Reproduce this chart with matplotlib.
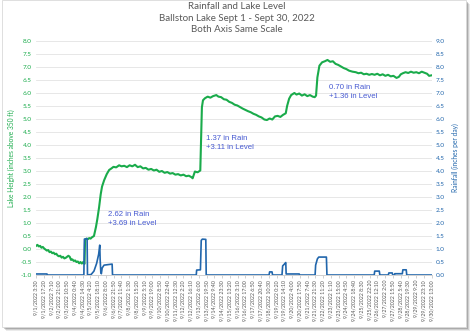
import matplotlib
matplotlib.use("Agg")
import matplotlib.pyplot as plt
from matplotlib.patches import Rectangle

plt.rcParams["font.family"] = ["Lato", "DejaVu Sans"]

# lake level, inches above 350 ft, as (day of September, level)
level_points = [
    (1.15, 0.12), (1.25, 0.16), (1.35, 0.10), (1.45, 0.12), (1.55, 0.05),
    (1.65, 0.08), (1.75, 0.02), (1.85, -0.02), (1.95, -0.06), (2.05, -0.04),
    (2.15, -0.12), (2.25, -0.10), (2.35, -0.16), (2.45, -0.14), (2.55, -0.20),
    (2.65, -0.18), (2.75, -0.25), (2.85, -0.28), (2.95, -0.26), (3.05, -0.33),
    (3.15, -0.30), (3.25, -0.36), (3.35, -0.34), (3.45, -0.30), (3.55, -0.26),
    (3.65, -0.30), (3.75, -0.42), (3.85, -0.40), (3.95, -0.46), (4.05, -0.44),
    (4.15, -0.50), (4.25, -0.48), (4.35, -0.55), (4.45, -0.50), (4.55, -0.56),
    (4.65, -0.50), (4.75, -0.57), (4.79, 0.36), (4.90, 0.40), (5.00, 0.38),
    (5.10, 0.42), (5.20, 0.40), (5.30, 0.45), (5.45, 0.50), (5.60, 0.85),
    (5.70, 1.15), (5.83, 1.60), (5.95, 2.10), (6.05, 2.40), (6.21, 2.65),
    (6.40, 2.88), (6.58, 3.04), (6.75, 3.10), (6.90, 3.16), (7.10, 3.14),
    (7.32, 3.22), (7.50, 3.18), (7.70, 3.20), (7.90, 3.15), (8.10, 3.22),
    (8.30, 3.18), (8.50, 3.24), (8.70, 3.15), (8.90, 3.18), (9.10, 3.10),
    (9.30, 3.12), (9.50, 3.05), (9.70, 3.08), (9.90, 3.02), (10.10, 3.05),
    (10.30, 2.97), (10.50, 3.00), (10.70, 2.93), (10.90, 2.96), (11.10, 2.90),
    (11.30, 2.92), (11.50, 2.86), (11.70, 2.88), (11.90, 2.83), (12.10, 2.86),
    (12.30, 2.80), (12.50, 2.82), (12.70, 2.76), (12.78, 2.72), (12.95, 2.98),
    (13.15, 2.95), (13.35, 3.02), (13.42, 4.40), (13.47, 5.45), (13.55, 5.72),
    (13.70, 5.80), (13.90, 5.86), (14.10, 5.82), (14.30, 5.88), (14.54, 5.92),
    (14.70, 5.86), (14.90, 5.84), (15.10, 5.76), (15.30, 5.74), (15.50, 5.66),
    (15.70, 5.62), (15.90, 5.55), (16.10, 5.52), (16.30, 5.46), (16.50, 5.40),
    (16.70, 5.35), (16.90, 5.30), (17.10, 5.26), (17.30, 5.20), (17.50, 5.16),
    (17.70, 5.10), (17.90, 5.06), (18.11, 4.98), (18.30, 4.96), (18.50, 5.02),
    (18.70, 4.98), (18.90, 5.10), (19.10, 5.12), (19.30, 5.08), (19.50, 5.16),
    (19.70, 5.22), (19.80, 5.50), (19.95, 5.78), (20.10, 5.92), (20.34, 6.00),
    (20.50, 5.94), (20.70, 5.98), (20.90, 5.90), (21.10, 5.95), (21.30, 5.88),
    (21.50, 5.92), (21.70, 5.86), (21.85, 5.84), (21.95, 5.90), (22.05, 6.60),
    (22.20, 7.05), (22.40, 7.18), (22.60, 7.22), (22.80, 7.27), (23.00, 7.20),
    (23.20, 7.22), (23.40, 7.12), (23.60, 7.08), (23.80, 7.02), (24.00, 6.96),
    (24.20, 6.92), (24.40, 6.86), (24.66, 6.82), (24.90, 6.80), (25.10, 6.76),
    (25.30, 6.78), (25.50, 6.72), (25.70, 6.74), (25.90, 6.70), (26.10, 6.73),
    (26.30, 6.70), (26.50, 6.74), (26.70, 6.68), (26.90, 6.72), (27.10, 6.66),
    (27.30, 6.70), (27.50, 6.64), (27.70, 6.66), (27.93, 6.58), (28.10, 6.62),
    (28.25, 6.72), (28.40, 6.76), (28.60, 6.80), (28.80, 6.77), (29.00, 6.82),
    (29.20, 6.78), (29.40, 6.80), (29.60, 6.76), (29.80, 6.82), (30.00, 6.78),
    (30.20, 6.74), (30.35, 6.66), (30.54, 6.68),
]

# rainfall rate, inches per day, as (day of September, rate)
rain_points = [
    (1.15, 0.04), (1.96, 0.04), (1.98, 0.0), (4.70, 0.0), (4.74, 1.38),
    (4.94, 1.40), (4.97, 0.0), (5.24, 0.02), (5.45, 0.15), (5.65, 0.45),
    (5.80, 0.80), (5.88, 1.15), (5.91, 0.60), (5.96, 0.10), (6.00, 0.05),
    (6.06, 0.27), (6.20, 0.38), (6.50, 0.40), (6.80, 0.42), (6.83, 0.0),
    (13.05, 0.0), (13.08, 0.19), (13.36, 0.20), (13.42, 1.33), (13.50, 1.38),
    (13.76, 1.37), (13.79, 0.0), (18.46, 0.0), (18.50, 0.12), (18.68, 0.12),
    (18.72, 0.0), (19.42, 0.0), (19.47, 0.35), (19.60, 0.42), (19.70, 0.48),
    (19.73, 0.04), (20.70, 0.04), (20.72, 0.0), (21.88, 0.0), (21.92, 0.38),
    (22.05, 0.62), (22.15, 0.69), (22.72, 0.69), (22.76, 0.0), (26.27, 0.0),
    (26.31, 0.15), (26.65, 0.15), (26.69, 0.0), (27.32, 0.0), (27.36, 0.08),
    (27.61, 0.08), (27.65, 0.0), (27.78, 0.0), (27.80, 0.05), (28.36, 0.05),
    (28.40, 0.20), (28.65, 0.20), (28.69, 0.0), (30.54, 0.0),
]

level_day = [p[0] for p in level_points]
level_in = [p[1] for p in level_points]
rain_day = [p[0] for p in rain_points]
rain_rate = [p[1] for p in rain_points]

# event notes placed on the lake-level axis
note_day = [6.5, 13.8, 22.95]
note_level = [1.15, 4.08, 6.04]
note_text = [
    "2.62 in Rain\n+3.69 in Level",
    "1.37 in Rain\n+3.11 in Level",
    "0.70 in Rain\n+1.36 in Level",
]

tick_labels = [
    "9/1/2022 3:30", "9/1/2022 17:20", "9/2/2022 7:10", "9/2/2022 21:00",
    "9/3/2022 10:50", "9/4/2022 0:40", "9/4/2022 14:30", "9/5/2022 4:20",
    "9/5/2022 18:10", "9/6/2022 8:00", "9/6/2022 21:50", "9/7/2022 11:40",
    "9/8/2022 1:30", "9/8/2022 15:20", "9/9/2022 5:10", "9/9/2022 19:00",
    "9/10/2022 8:50", "9/10/2022 22:40", "9/11/2022 12:30", "9/12/2022 2:20",
    "9/12/2022 16:10", "9/13/2022 6:00", "9/13/2022 19:50", "9/14/2022 9:40",
    "9/14/2022 23:30", "9/15/2022 13:20", "9/16/2022 3:10", "9/16/2022 17:00",
    "9/17/2022 6:50", "9/17/2022 20:40", "9/18/2022 10:30", "9/19/2022 0:20",
    "9/19/2022 14:10", "9/20/2022 4:00", "9/20/2022 17:50", "9/21/2022 7:40",
    "9/21/2022 21:30", "9/22/2022 11:20", "9/23/2022 1:10", "9/23/2022 15:00",
    "9/24/2022 4:50", "9/24/2022 18:40", "9/25/2022 8:30", "9/25/2022 22:20",
    "9/26/2022 12:10", "9/27/2022 2:00", "9/27/2022 15:50", "9/28/2022 5:40",
    "9/28/2022 19:30", "9/29/2022 9:20", "9/29/2022 23:10", "9/30/2022 13:00",
]


def label_to_day(label):
    date_part, time_part = label.split()
    day = int(date_part.split("/")[1])
    hour, minute = time_part.split(":")
    return day + int(hour) / 24.0 + int(minute) / 1440.0


GREEN = "#1aab4b"
BLUE = "#2166ac"
NOTE = "#4659d1"
GRAY = "#595959"

fig = plt.figure(figsize=(4.74, 3.36), dpi=100)

# chart frame with a soft drop shadow
for i, alpha in enumerate([0.10, 0.16, 0.25]):
    off = 0.004 + 0.0025 * (2 - i)
    fig.patches.append(Rectangle((0.004 + off, 0.027 - off * 1.4), 0.979, 0.973,
                                 transform=fig.transFigure, facecolor="#404040",
                                 edgecolor="none", alpha=alpha, zorder=0))
fig.patches.append(Rectangle((0.004, 0.027), 0.979, 0.973, transform=fig.transFigure,
                             facecolor="white", edgecolor="#d9d9d9", linewidth=0.6, zorder=1))

ax = fig.add_axes([0.076, 0.1815, 0.835, 0.6965])
ax.set_zorder(2)
ax.patch.set_visible(False)
ax2 = ax.twinx()

ticks = [label_to_day(t) for t in tick_labels]
ax.set_xlim(ticks[0], ticks[-1] + 0.01)
ax.set_xticks(ticks)
ax.set_xticklabels(tick_labels, rotation=90, fontsize=3.8, color=GRAY)

left_ticks = [v / 2.0 for v in range(-2, 17)]
right_ticks = [v / 2.0 for v in range(0, 19)]
ax.set_ylim(-1.0, 8.0)
ax.set_yticks(left_ticks)
ax.set_yticklabels([f"{v:.1f}" for v in left_ticks], fontsize=4.6, color=GREEN)
ax.grid(axis="y", color="#e3e3e3", linewidth=0.6)
ax.set_axisbelow(True)

ax2.set_ylim(0.0, 9.0)
ax2.set_yticks(right_ticks)
ax2.set_yticklabels([f"{v:.1f}" for v in right_ticks], fontsize=4.6, color=BLUE)

for a in (ax, ax2):
    for side in ("top", "left", "right"):
        a.spines[side].set_visible(False)
    a.spines["bottom"].set_color("#d0d0d0")
    a.spines["bottom"].set_linewidth(0.6)
ax.tick_params(axis="x", length=2, width=0.5, color="#bfbfbf", pad=1.5)
ax.tick_params(axis="y", length=0, pad=3)
ax2.tick_params(axis="y", length=0, pad=3)

ax.plot(level_day, level_in, color=GREEN, linewidth=1.5, zorder=3)
ax2.plot(rain_day, rain_rate, color=BLUE, linewidth=1.2, zorder=3)

for d, lv, txt in zip(note_day, note_level, note_text):
    ax.text(d, lv, txt, color=NOTE, fontsize=5.6, va="center", ha="left",
            family=["Liberation Sans", "DejaVu Sans"], linespacing=1.25)

ax.set_ylabel("Lake Height (inches above 350 ft)", color=GREEN, fontsize=4.8, labelpad=4)
ax2.set_ylabel("Rainfall (inches per day)", color=BLUE, fontsize=4.8, labelpad=5, rotation=90)

fig.text(0.5, 0.981, "Rainfall and Lake Level", ha="center", va="center", fontsize=7, color=GRAY)
fig.text(0.5, 0.946, "Ballston Lake Sept 1 - Sept 30, 2022", ha="center", va="center",
         fontsize=7, color=GRAY)
fig.text(0.5, 0.911, "Both Axis Same Scale", ha="center", va="center", fontsize=7, color=GRAY)

fig.savefig("out.png", dpi=100, facecolor="white")
